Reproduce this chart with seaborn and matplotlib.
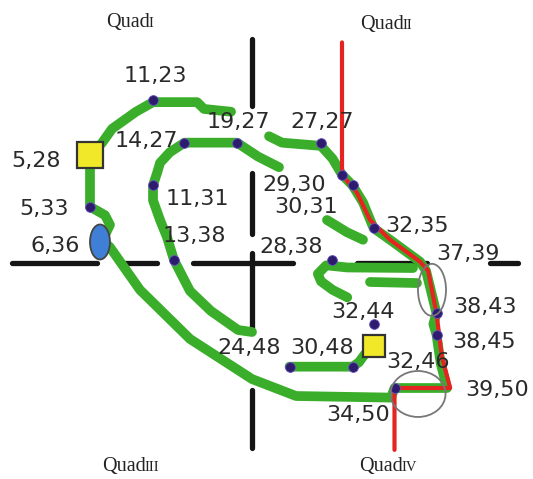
import matplotlib
matplotlib.use("Agg")
import matplotlib.pyplot as plt
from matplotlib.patches import Ellipse
import seaborn as sns

sns.set_theme(style="white")
plt.rcParams["font.family"] = ["DejaVu Sans"]

# ---------------- data (grid units: x right, y down) ----------------
# labelled grid points
pt_x = [11, 14, 19, 27, 5, 29, 30, 11, 5, 32, 6, 13, 28, 37, 38, 38, 32, 32, 24, 30, 34, 39]
pt_y = [23, 27, 27, 27, 28, 30, 31, 31, 33, 35, 36, 38, 38, 39, 43, 45, 44, 46, 48, 48, 50, 50]

# points drawn as dark dots
dot_x = [11, 14, 19, 27, 29, 30, 11, 5, 13, 28, 32, 24, 30, 34, 38, 38, 32]
dot_y = [23, 27, 27, 27, 30, 31, 31, 33, 38, 38, 44, 48, 48, 50, 43, 45, 35]

# points drawn as yellow squares
sq_x = [5, 32]
sq_y = [28.2, 46.1]

# green route (outer loop), split where the labels hide it
outer1_x = [5.0, 6.14, 7.1, 9.38, 11.0, 15.2, 15.86, 18.43]
outer1_y = [28.2, 27.03, 25.7, 24.1, 23.2, 23.2, 23.84, 24.1]
outer2_x = [22.05, 23.29, 27.0, 28.1, 29.0, 30.0, 31.0, 32.0, 33.57, 36.43, 37.0, 38.0,
            37.7, 38.0, 38.4, 39.0, 34.0, 33.67, 24.62, 20.43, 14.52, 9.76, 6.9, 6.0,
            6.43, 6.9, 6.43, 5.0, 5.0]
outer2_y = [26.4, 27.0, 27.3, 28.5, 30.0, 31.0, 32.6, 35.0, 36.1, 38.16, 39.0, 43.0,
            44.0, 45.0, 47.7, 50.0, 50.0, 50.9, 50.75, 49.16, 45.4, 40.8, 36.8, 36.0,
            35.66, 34.7, 33.8, 33.0, 28.2]

# green route (inner)
inner1_x = [23.0, 21.0, 19.0, 14.0, 12.6, 11.67, 11.4, 11.0, 11.0, 11.67, 12.33, 13.0,
            14.52, 16.52, 19.1, 20.43]
inner1_y = [29.3, 28.3, 27.0, 27.0, 27.9, 28.9, 29.8, 31.0, 32.4, 34.25, 35.85, 38.0,
            40.9, 42.78, 44.56, 44.75]
inner2_x = [27.57, 29.48, 31.0]
inner2_y = [34.25, 35.4, 36.1]
inner3_x = [35.76, 29.5, 27.5, 26.7, 27.0, 28.1, 29.5]
inner3_y = [38.75, 38.7, 38.5, 39.3, 40.0, 40.8, 41.5]
inner4_x = [31.67, 36.14]
inner4_y = [40.06, 40.16]
inner5_x = [24.0, 30.0, 30.6, 31.2]
inner5_y = [48.0, 48.0, 47.6, 46.8]

# red route
red_x = [29.0, 29.0, 30.43, 31.67, 33.57, 36.43, 37.2, 38.0, 38.5, 39.3, 34.0, 34.0]
red_y = [17.6, 30.0, 31.7, 34.25, 36.1, 38.16, 39.0, 43.0, 47.0, 50.0, 50.0, 55.8]

# black quadrant cross (dashed)
vline_x = 20.43
vline_segs = [(17.28, 23.6), (29.84, 35.6), (37.34, 44.7), (50.19, 55.6)]
hline_y = 38.3
hline_segs = [(-2.43, 5.67), (8.33, 11.38), (14.81, 24.33), (30.43, 37.1), (43.1, 45.76)]

# ellipses: (cx, cy, w, h)
gray_ell = [(37.57, 40.8, 2.67, 4.88), (36.24, 50.56, 5.24, 4.31)]
blue_ell = [(5.95, 36.31, 1.9, 3.28)]

quad_names = ["I", "II", "III", "IV"]

# ---------------- layout ----------------
label_off = {  # pixel offsets of labels from their points (dx, dy up)
    (11, 23): (2, 26), (14, 27): (-38, 4), (19, 27): (1, 23), (27, 27): (1, 23),
    (5, 28): (-54, -6), (29, 30): (-48, -8), (30, 31): (-46, -20), (11, 31): (44, -12),
    (5, 33): (-46, 0), (32, 35): (44, 4), (6, 36): (-45, -5), (13, 38): (20, 26),
    (28, 38): (-40, 15), (37, 39): (42, 19), (38, 43): (48, 8), (38, 45): (48, -5),
    (32, 44): (-11, 14), (32, 46): (44, -15), (24, 48): (-40, 21), (30, 48): (-30, 21),
    (34, 50): (-36, -25), (39, 50): (50, 0),
}

W, H = 533, 479
fig = plt.figure(figsize=(W / 100, H / 100), dpi=100)
ax = fig.add_axes([0, 0, 1, 1])
ax.set_xlim(-3.571, 47.19)
ax.set_ylim(58.53, 13.625)
ax.axis("off")

BLACK = "#151515"
GREEN = "#3aae2a"
RED = "#e52421"

for y0, y1 in vline_segs:
    sns.lineplot(x=[vline_x, vline_x], y=[y0, y1], sort=False, estimator=None, ax=ax,
                 color=BLACK, linewidth=3.8, solid_capstyle="round", zorder=1)
for x0, x1 in hline_segs:
    sns.lineplot(x=[x0, x1], y=[hline_y, hline_y], sort=False, estimator=None, ax=ax,
                 color=BLACK, linewidth=3.8, solid_capstyle="round", zorder=1)

for xs, ys in [(outer1_x, outer1_y), (outer2_x, outer2_y), (inner1_x, inner1_y),
               (inner2_x, inner2_y), (inner3_x, inner3_y), (inner4_x, inner4_y),
               (inner5_x, inner5_y)]:
    sns.lineplot(x=xs, y=ys, sort=False, estimator=None, ax=ax, color=GREEN,
                 linewidth=7, solid_capstyle="round", solid_joinstyle="round", zorder=2)

sns.lineplot(x=red_x, y=red_y, sort=False, estimator=None, ax=ax, color=RED,
             linewidth=3, solid_joinstyle="round", zorder=3)

sns.scatterplot(x=dot_x, y=dot_y, ax=ax, color="#2d1b6e", s=50, edgecolor="#6a55c0",
                linewidth=0.6, zorder=4)

for cx, cy, w, h in gray_ell:
    ax.add_patch(Ellipse((cx, cy), w, h, facecolor="none", edgecolor="#777777",
                         linewidth=1.3, zorder=5))
for cx, cy, w, h in blue_ell:
    ax.add_patch(Ellipse((cx, cy), w, h, facecolor="#3f7fd6", edgecolor="#444444",
                         linewidth=1.3, zorder=5))

ax.plot(sq_x[:1], sq_y[:1], marker="s", markersize=19, markerfacecolor="#f2e82a",
        markeredgecolor="#333333", markeredgewidth=1.6, linestyle="none", zorder=6)
ax.plot(sq_x[1:], sq_y[1:], marker="s", markersize=16, markerfacecolor="#f2e82a",
        markeredgecolor="#333333", markeredgewidth=1.6, linestyle="none", zorder=6)

for x, y in zip(pt_x, pt_y):
    dx, dy = label_off[(x, y)]
    ax.annotate(f"{x},{y}", (x, y), xytext=(dx, dy), textcoords="offset pixels",
                ha="center", va="center_baseline", fontsize=16, color="#2a2a2a",
                family="DejaVu Sans", zorder=7)

# quadrant titles
quad_pos = [(150, 27), (404, 29), (146, 471), (403, 471)]
for name, (sx, by) in zip(quad_names, quad_pos):
    fig.text(sx / W, 1 - by / H, "Quad", ha="right", va="baseline", fontsize=14.5,
             family="Liberation Serif", color="#222222")
    fig.text((sx - 1.5) / W, 1 - by / H, name, ha="left", va="baseline", fontsize=10.5,
             family="Liberation Serif", color="#222222")

fig.savefig("out.png", dpi=100)
